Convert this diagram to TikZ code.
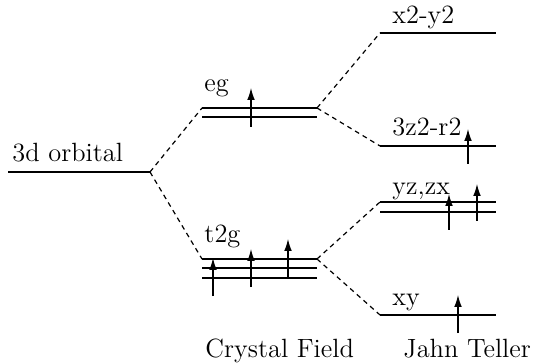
\documentclass[tikz,border=0pt]{standalone}
\usetikzlibrary{arrows.meta}
\begin{document}
\begin{tikzpicture}[x=0.4167pt, y=-0.4167pt, >={Latex[length=5pt,width=3.2pt]},
  font=\fontsize{11}{13}\selectfont,
  level/.style={line width=0.5pt},
  link/.style={dash pattern=on 2pt off 1.7pt, line width=0.5pt},
  spin/.style={->, line width=0.5pt},
  lbl/.style={anchor=base west, inner sep=0pt}]
\useasboundingbox (0,0) rectangle (535,364);

% free ion level
\draw[level] (8,172) -- (150,172) coordinate (d3);
\node[lbl] (d3lbl) at (12,162) {3d orbital};

% crystal field levels
\draw[level] (202,108) coordinate (egL) -- (317,108) coordinate (egR);
\draw[level] (202,117) -- (317,117);
\node[lbl] (eglbl) at (204,92) {eg};
\draw[level] (202,259) coordinate (tgL) -- (317,259) coordinate (tgR);
\draw[level] (202,268) -- (317,268);
\draw[level] (202,278) -- (317,278);
\node[lbl] (tglbl) at (204,243) {t2g};

% Jahn-Teller levels
\draw[level] (380,33) coordinate (xyL2) -- (496,33);
\node[lbl] (xylbl2) at (392,24) {x2-y2};
\draw[level] (380,146) coordinate (zrL) -- (496,146);
\node[lbl] (zrlbl) at (392,136) {3z2-r2};
\draw[level] (380,202) coordinate (yzL) -- (496,202);
\draw[level] (380,212) -- (496,212);
\node[lbl] (yzlbl) at (392,195) {yz,zx};
\draw[level] (380,315) coordinate (xyL) -- (496,315);
\node[lbl] (xylbl) at (392,305) {xy};

% splittings
\draw[link] (d3) -- (egL);
\draw[link] (d3) -- (tgL);
\draw[link] (egR) -- (xyL2);
\draw[link] (egR) -- (zrL);
\draw[link] (tgR) -- (yzL);
\draw[link] (tgR) -- (xyL);

% electrons
\draw[spin] (251,127) -- (251,88);
\draw[spin] (213,296) -- (213,258);
\draw[spin] (251,287) -- (251,249);
\draw[spin] (288,278) -- (288,239);
\draw[spin] (468,164) -- (468,129);
\draw[spin] (449,230) -- (449,194);
\draw[spin] (477,221) -- (477,184);
\draw[spin] (458,333) -- (458,295);

% captions
\node[lbl] (cf) at (205,357) {Crystal Field};
\node[lbl] (jt) at (403,357) {Jahn Teller};
\end{tikzpicture}
\end{document}
